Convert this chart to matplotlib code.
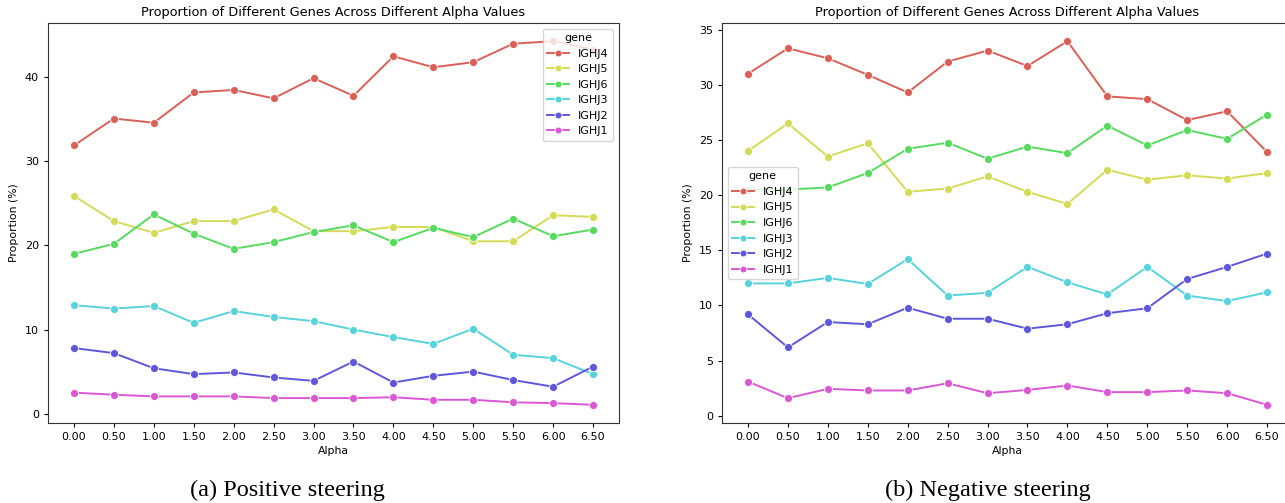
import numpy as np
import matplotlib
matplotlib.use("Agg")
import matplotlib.pyplot as plt
import seaborn as sns

alpha = [0.0, 0.5, 1.0, 1.5, 2.0, 2.5, 3.0, 3.5, 4.0, 4.5, 5.0, 5.5, 6.0, 6.5]
genes = ["IGHJ4", "IGHJ5", "IGHJ6", "IGHJ3", "IGHJ2", "IGHJ1"]

# positive steering (%)
pos_ighj4 = [31.9, 35.1, 34.6, 38.2, 38.5, 37.5, 39.9, 37.8, 42.5, 41.2, 41.8, 44.0, 44.3, 43.3]
pos_ighj5 = [25.9, 22.9, 21.5, 22.9, 22.9, 24.3, 21.7, 21.7, 22.2, 22.2, 20.5, 20.5, 23.6, 23.4]
pos_ighj6 = [19.0, 20.2, 23.7, 21.4, 19.6, 20.4, 21.6, 22.4, 20.4, 22.1, 21.0, 23.2, 21.1, 21.9]
pos_ighj3 = [12.9, 12.5, 12.8, 10.8, 12.2, 11.5, 11.0, 10.0, 9.1, 8.3, 10.1, 7.0, 6.6, 4.7]
pos_ighj2 = [7.8, 7.2, 5.4, 4.7, 4.9, 4.3, 3.9, 6.2, 3.7, 4.5, 5.0, 4.0, 3.2, 5.6]
pos_ighj1 = [2.5, 2.25, 2.05, 2.05, 2.05, 1.85, 1.85, 1.85, 1.95, 1.65, 1.65, 1.35, 1.25, 1.05]

# negative steering (%)
neg_ighj4 = [31.0, 33.3, 32.4, 30.9, 29.3, 32.1, 33.1, 31.7, 33.95, 28.95, 28.7, 26.8, 27.6, 23.9]
neg_ighj5 = [24.0, 26.5, 23.5, 24.7, 20.3, 20.6, 21.7, 20.3, 19.2, 22.3, 21.4, 21.8, 21.5, 22.0]
neg_ighj6 = [20.5, 20.5, 20.7, 22.0, 24.2, 24.75, 23.3, 24.4, 23.8, 26.3, 24.5, 25.9, 25.1, 27.3]
neg_ighj3 = [12.0, 12.0, 12.5, 11.95, 14.2, 10.9, 11.15, 13.5, 12.1, 11.0, 13.5, 10.9, 10.4, 11.2]
neg_ighj2 = [9.2, 6.2, 8.5, 8.3, 9.8, 8.8, 8.8, 7.9, 8.3, 9.3, 9.75, 12.4, 13.5, 14.7]
neg_ighj1 = [3.1, 1.6, 2.45, 2.3, 2.3, 2.95, 2.05, 2.35, 2.75, 2.15, 2.15, 2.3, 2.05, 1.0]

pos_series = [pos_ighj4, pos_ighj5, pos_ighj6, pos_ighj3, pos_ighj2, pos_ighj1]
neg_series = [neg_ighj4, neg_ighj5, neg_ighj6, neg_ighj3, neg_ighj2, neg_ighj1]

colors = sns.color_palette("hls", 6)

fig = plt.figure(figsize=(12.85, 5.03), dpi=100)
ax1 = fig.add_axes([48 / 1285, 80 / 503, 571 / 1285, 400 / 503])
ax2 = fig.add_axes([722 / 1285, 80 / 503, 571 / 1285, 400 / 503])


def draw(ax, series, loc):
    for name, vals, col in zip(genes, series, colors):
        ax.plot(alpha, vals, color=col, lw=1.4, marker="o", markersize=5.8,
                markeredgecolor="white", markeredgewidth=0.6, label=name)
    ax.set_xticks(alpha)
    ax.set_xticklabels([f"{a:.2f}" for a in alpha])
    ax.tick_params(labelsize=8, length=3)
    ax.set_xlabel("Alpha", fontsize=7.8, labelpad=3)
    ax.set_ylabel("Proportion (%)", fontsize=7.8)
    ax.set_title("Proportion of Different Genes Across Different Alpha Values",
                 fontsize=9.3, pad=5)
    ax.legend(title="gene", loc=loc, fontsize=8, title_fontsize=8,
              markerscale=0.85, handlelength=2.0, labelspacing=0.5)
    for s in ax.spines.values():
        s.set_color("#333333")


draw(ax1, pos_series, "upper right")
draw(ax2, neg_series, "center left")

fig.text(287 / 1285, 1 - 490 / 503, "(a) Positive steering", ha="center", va="center",
         fontsize=17.5, family="Liberation Serif")
fig.text(988 / 1285, 1 - 490 / 503, "(b) Negative steering", ha="center", va="center",
         fontsize=17.5, family="Liberation Serif")

fig.savefig("out.png", dpi=100)
